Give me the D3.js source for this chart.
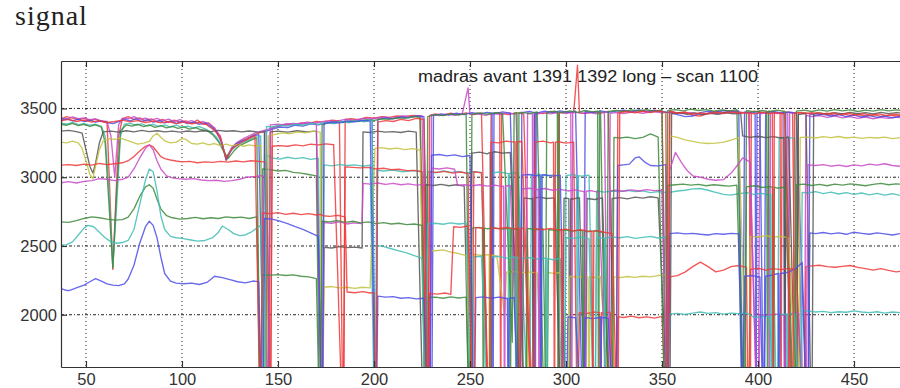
<!DOCTYPE html>
<html>
<head>
<meta charset="utf-8">
<script src="https://cdn.jsdelivr.net/npm/d3@7"></script>
<style>
body { margin: 0; background: #fff; }
svg { display: block; }
</style>
</head>
<body>
<script>
// axis ticks and texts
var xTicks = [50, 100, 150, 200, 250, 300, 350, 400, 450];
var yTicks = [2000, 2500, 3000, 3500];
var figTitle = "signal";
var plotTitle = "madras avant 1391 1392 long \u2013 scan 1100";

// one [sample, signal] list per trace (1000 = dropout below the axis)
var red1 = [[37,3425],[40,3440],[43,3430],[46,3418],[49,3428],[52,3412],[55,3420],[58,3405],[61,3395],[64,2330],[67,3300],[69,3425],[72,3440],[75,3420],[78,3432],[81,3410],[84,3425],[87,3405],[90,3420],[93,3398],[96,3415],[99,3400],[102,3410],[105,3392],[108,3415],[111,3385],[114,3395],[117,3350],[120,3300],[123,3120],[126,3210],[129,3250],[132,3270],[135,3290],[138,3310],[140,3320],
	[144,3340],[146,1000],[147,3360],[150,3370],[154,3385],[158,3380],[162,3395],[166,3390],[170,3405],[174,3400],[178,3415],[182,3410],[184,1000],[185,3420],[188,3425],[192,3418],[196,3435],[200,3430],[204,3440],[208,3435],[212,3445],[216,3440],[220,3450],[224,3445],[228,1000],[229,3450],
	[232,3460],[236,3450],[240,3465],[244,3455],[248,3468],[252,3455],[256,3465],[260,1000],[261,3460],[265,3470],[270,3455],[274,3468],[278,3460],[283,1000],[284,3470],[288,3462],[292,3478],[296,3465],[300,3475],[304,3468],[306,3815],[307,3470],[310,3462],[314,3475],[318,3468],[322,3478],[326,1000],[327,3470],
	[330,3480],[334,3472],[338,3485],[342,3475],[346,3488],[350,3478],[353,1000],[354,3480],[358,3468],[362,3475],[366,3450],[370,3445],[374,3465],[378,3478],[382,3470],[386,3482],[390,3475],[394,3468],[398,3480],[402,3470],[406,3478],[410,3465],[414,3475],[418,3468],[420,1000],[421,3470],
	[424,3462],[428,3470],[432,3455],[436,3465],[440,3450],[444,3462],[448,3448],[452,3458],[456,3445],[460,3455],[464,3442],[468,3452],[472,3445],[476,3450]];

var magenta1 = [[37,3430],[40,3420],[43,3438],[46,3425],[49,3432],[52,3418],[55,3425],[58,3410],[61,3405],[63,3300],[65,3000],[67,3380],[69,3430],[72,3425],[75,3440],[78,3420],[81,3430],[84,3415],[87,3428],[90,3410],[93,3422],[96,3405],[99,3418],[102,3400],[105,3412],[108,3395],[111,3405],[114,3390],[117,3360],[120,3290],[123,3135],[126,3220],[129,3255],[132,3280],[135,3300],[138,3320],[140,3330],
	[145,3350],[150,3375],[155,3390],[160,3385],[165,3400],[170,3395],[175,3410],[180,3405],[185,3420],[190,3415],[195,3430],[200,3425],[205,3438],[210,3430],[215,3445],[220,3440],[225,3448],[229,1000],[230,3455],
	[234,3448],[238,3460],[242,3450],[246,3462],[249,3650],[250,3455],[254,3465],[258,3450],[262,3462],[266,3455],[270,3468],[274,3458],[279,1000],[280,3465],[284,3455],[288,3470],[292,3460],[296,3472],[300,3462],[304,3475],[308,3465],[312,3470],[316,3460],[320,3472],[322,1000],[323,3465],
	[326,3470],[330,3462],[335,3475],[340,3465],[345,3478],[350,3468],[355,3475],[360,3462],[365,3470],[370,3458],[375,3468],[380,3460],[385,3472],[390,3465],[395,3470],[400,1000],[401,3460],[405,3470],[410,3462],[415,3472],[420,3465],[424,1000],[425,3450],
	[428,3440],[432,3448],[436,3435],[440,3445],[444,3432],[448,3440],[452,3428],[456,3438],[460,3425],[464,3435],[468,3428],[472,3438],[476,3430]];

var blue1 = [[37,3415],[40,3425],[43,3410],[46,3422],[49,3405],[52,3415],[55,3400],[58,3410],[61,3398],[64,3390],[67,3405],[70,3420],[73,3410],[76,3425],[79,3405],[82,3418],[85,3400],[88,3412],[91,3395],[94,3408],[97,3392],[100,3405],[103,3390],[106,3400],[109,3385],[112,3395],[115,3370],[118,3330],[121,3240],[123,3130],[125,3180],[128,3240],[131,3262],[134,3275],[137,3300],[140,3310],[142,1900],[143,3330],
	[147,3350],[151,3365],[155,3360],[159,3378],[163,3372],[167,3388],[171,3380],[175,3395],[179,3390],[183,3402],[187,3398],[191,3410],[195,3405],[199,3418],[201,1000],[202,3420],[206,3430],[210,3425],[214,3438],[218,3432],[222,3445],[226,3440],[230,1000],[231,3450],
	[235,3460],[239,3452],[243,3465],[247,3455],[251,3470],[255,3460],[259,3472],[263,3462],[267,3475],[271,3465],[276,1000],[277,3470],[281,3478],[285,3468],[289,3480],[293,3470],[297,3482],[301,3472],[305,3480],[309,1000],[310,3478],[314,3470],[318,3482],[322,3472],[326,3480],
	[330,3488],[334,3478],[338,3490],[342,3480],[346,3485],[350,3478],[354,3470],[358,3455],[362,3440],[366,3445],[370,3470],[374,3480],[378,3472],[382,3485],[386,3478],[390,3482],[392,1000],[393,3475],[397,3468],[401,3478],[403,1000],[404,3470],[408,3478],[412,3468],[416,3475],[420,3465],[426,1000],[427,3460],
	[430,3450],[434,3458],[438,3445],[442,3455],[446,3440],[450,3452],[454,3438],[458,3448],[462,3435],[466,3445],[470,3432],[474,3442],[476,3438]];

var cyan1 = [[37,3395],[40,3385],[43,3398],[46,3382],[49,3390],[52,3378],[55,3385],[58,3370],[60,3300],[62,2900],[64,2350],[66,2800],[68,3300],[70,3385],[73,3392],[76,3378],[79,3388],[82,3372],[85,3385],[88,3368],[91,3380],[94,3365],[97,3378],[100,3362],[103,3372],[106,3358],[109,3368],[112,3352],[115,3330],[118,3290],[121,3220],[123,3150],[126,3200],[129,3235],[132,3255],[135,3270],[138,3290],[141,3300],[143,1000],[144,3160],
	[147,3140],[151,3132],[155,3145],[159,3135],[163,3142],[167,3130],[171,3138],[173,1000],[174,3090],[178,3082],[182,3092],[186,3085],[190,3090],[194,3080],[198,3088],[200.5,1000],[201.5,3050],
	[205,3045],[210,3052],[215,3040],[220,3048],[225,3040],[227,1000],[228,3040],[232,3032],[236,3045],[240,3035],[244,3042],[248,3030],[252,3040],[256,3035],[260,1000],[261,3030],[265,3038],[270,3025],[275,3032],[281,1000],[282,3015],[286,3022],[290,3010],[294,3018],[299,1000],[300,3012],[304,3020],[308,3008],[312,3015],[315,1000],[316,2900],[320,2892],[324,2900],
	[328,2895],[332,2905],[336,2895],[340,2900],[344,2888],[348,2895],[352,2890],[353,1000],[354,2890],[358,2900],[362,2905],[366,2915],[370,2918],[374,2905],[378,2890],[382,2875],[386,2870],[390,2880],[394,2888],[398,2875],[402,2882],[406,2870],[410,1000],[411,3280],[415,3290],[419,3282],[422,1000],[423,2890],
	[426,2885],[430,2895],[434,2880],[438,2892],[442,2878],[446,2888],[450,2875],[454,2885],[458,2872],[462,2882],[466,2870],[470,2880],[474,2868],[476,2875]];

var green1 = [[37,3385],[40,3378],[43,3392],[46,3375],[49,3385],[52,3370],[55,3380],[58,3365],[60,3250],[62,2800],[64,2340],[66,2900],[68,3340],[71,3380],[74,3372],[77,3385],[80,3368],[83,3380],[86,3362],[89,3375],[92,3358],[95,3370],[98,3355],[101,3366],[104,3350],[107,3360],[110,3345],[113,3340],[116,3310],[119,3260],[122,3180],[124,3135],[127,3190],[130,3230],[133,3250],[136,3270],[139,3285],[141,1000],[142,3060],
	[146,3055],[150,3045],[154,3050],[158,3035],[162,3030],[166,3020],[170,3010],[172,1000],[173,3380],[176,3395],[180,3402],[184,3398],[188,3410],[192,3405],[196,3418],[200,3412],[204,3425],[208,3420],[212,3432],[216,3428],[220,3440],[224,3435],[227,1000],[228,3440],
	[232,3455],[236,3448],[240,3460],[244,3452],[248,3462],[250,1000],[251,3458],[255,3468],[259,3458],[263,3470],[267,3462],[272,1800],[273,3465],[277,3472],[281,3462],[285,3475],[289,1000],[290,3470],[294,3480],[298,3470],[302,3482],[306,3472],[310,3485],[314,3475],[318,3482],[321,1000],[322,3478],
	[326,3485],[330,3478],[334,3490],[338,3482],[342,3492],[346,3480],[350,3490],[352,1000],[353,3485],[357,3492],[361,3482],[365,3495],[369,3485],[373,3492],[377,3480],[381,3490],[385,3482],[389,3492],[393,1000],[394,3485],[398,3475],[402,3485],[406,3478],[410,3488],[414,3478],[419,1000],[420,3480],
	[424,3488],[428,3478],[432,3490],[436,3480],[440,3492],[444,3482],[448,3490],[452,3478],[456,3488],[460,3480],[464,3492],[468,3482],[472,3490],[476,3484]];

var gray1 = [[37,3335],[41,3340],[45,3332],[48,3320],[50,3200],[52,3080],[53.6,3030],[55,3100],[57,3250],[59,3330],[63,3335],[67,3328],[71,3338],[75,3330],[79,3340],[83,3332],[87,3338],[91,3330],[95,3335],[99,3328],[103,3336],[107,3330],[111,3338],[115,3332],[119,3340],[123,3334],[127,3338],[131,3330],[135,3336],[139,3330],[143,3328],[145,1000],[146,3330],
	[150,3335],[155,3328],[160,3338],[165,3330],[170,3335],[173,1000],[174,2490],[178,2485],[182,2495],[186,2488],[190,2492],[193.8,2485],[194.3,3330],[198,3325],[202,3335],[206,3328],[210,3332],[214,3325],[218,3335],[222,3328],[226,1000],[227,2945],
	[231,2940],[235,2948],[239,2938],[243,2945],[247,2935],[250,1000],[251,3175],[255,3182],[259,3170],[263,3185],[267,3175],[271,3180],[277,1000],[278,2850],[282,2842],[286,2855],[290,2845],[294,2850],[298,1000],[299,2848],[303,2840],[307,2852],[310,1000],[311,2845],[315,2838],[319,2850],[323,1000],[324,2845],
	[328,2852],[332,2842],[336,2855],[340,2848],[344,2858],[348,2850],[354,1000],[355,3460],[359,3470],[363,3458],[367,3468],[371,3455],[375,3465],[379,3458],[383,3470],[387,3460],[391,3465],[392,3300],[396,3290],[400,3298],[404,3288],[408,3295],[412,3285],[416,3292],[420,1000],[421,3455],[425,3465],[428,1000],[429,3460],
	[432,3468],[436,3458],[440,3470],[444,3460],[448,3472],[452,3462],[456,3470],[460,3460],[464,3472],[468,3462],[472,3470],[476,3465]];

var yellow1 = [[37,3255],[40,3250],[43,3262],[46,3250],[48,3210],[50,3120],[52,3020],[53.6,2990],[55,3080],[57,3200],[59,3265],[62,3280],[65,3275],[68,3285],[71,3270],[74,3255],[77,3240],[80,3248],[83,3260],[85,3300],[87,3320],[89,3290],[91,3265],[94,3250],[97,3255],[100,3280],[102,3275],[105,3245],[108,3240],[111,3250],[114,3235],[117,3245],[120,3230],[123,3240],[126,3228],[129,3238],[132,3225],[135,3235],[138,3228],[141,3232],[144,1000],[145,3300],
	[148,3310],[152,3322],[156,3315],[160,3330],[164,3322],[168,3335],[172,3328],[173,1000],[174,2200],[178,2205],[182,2195],[186,2200],[190,2192],[194,2200],[198,2195],[200.5,3210],[204,3215],[208,3205],[212,3212],[216,3200],[220,3208],[224,3198],[227,1000],[228,2470],
	[232,2465],[236,2472],[240,2455],[244,2445],[248,2430],[251,1000],[252,2440],[256,2432],[260,2438],[264,2428],[268,2000],[269,2310],[273,2315],[277,2305],[281,2312],[285,2302],[289,1000],[290,2308],[294,2300],[298,2310],[301,1000],[302,2280],[306,2272],[310,2282],[314,2270],[318,2278],[324,1000],[325,2275],
	[328,2270],[332,2278],[336,2272],[340,2280],[344,2275],[348,2285],[352,2290],[353,1000],[354,3300],[358,3290],[362,3272],[366,3260],[370,3250],[374,3245],[378,3248],[382,3255],[386,3270],[390,3290],[395,1000],[396,2570],[400,2565],[404,2575],[408,2562],[412,2570],[416,2560],[421,1000],[422,3290],
	[426,3292],[430,3285],[434,3295],[438,3288],[442,3296],[446,3285],[450,3292],[454,3282],[458,3290],[462,3285],[466,3292],[470,3280],[474,3288],[476,3285]];

var red2 = [[37,3088],[41,3092],[45,3085],[49,3095],[53,3088],[57,3100],[61,3092],[65,3098],[69,3105],[72,3120],[75,3150],[78,3190],[81,3225],[83,3235],[85,3220],[87,3185],[89,3150],[91,3135],[94,3125],[97,3118],[100,3112],[104,3115],[108,3105],[112,3112],[116,3108],[120,3115],[124,3110],[128,3118],[132,3112],[136,3120],[140,3115],[144,3110],[146,1000],[147,3225],
	[151,3230],[155,3225],[159,3235],[163,3228],[167,3240],[171,3235],[175,3242],[179,3236],[184,1000],[185,3075],[189,3072],[193,3068],[197,3072],[201,3060],[205,3065],[209,3055],[213,3058],[217,3048],[221,3050],[225,3040],[228,1000],[229,3040],
	[233,3035],[237,3042],[241,3030],[245,3038],[249,3028],[251,1000],[252,3040],[256,3032],[260,1000],[261,3255],[265,3250],[269,3262],[273,3255],[277,3260],[283,1000],[284,3255],[288,3262],[292,3250],[296,3258],[300,3248],[304,3255],[306,1000],[307,2015],[311,2010],[315,2020],[319,2012],[323,2018],[326,1000],[327,1985],
	[330,1980],[334,1990],[338,1978],[342,1985],[346,1975],[350,1988],[353,1000],[354,2275],[358,2285],[362,2310],[366,2350],[370,2383],[374,2350],[378,2312],[382,2325],[386,2350],[390,2358],[394,2345],[395,1000],[396,2330],[400,2338],[404,2325],[408,2335],[412,2328],[416,2340],[420,2330],[424,1000],[425,2350],
	[428,2355],[432,2360],[436,2350],[440,2345],[444,2352],[448,2358],[452,2345],[456,2335],[460,2325],[464,2335],[468,2322],[472,2312],[476,2318]];

var magenta2 = [[37,2960],[41,2968],[45,2958],[49,2970],[53,2975],[57,2990],[61,2985],[65,2975],[69,2985],[72,3000],[75,3060],[78,3140],[81,3210],[83,3235],[85,3200],[87,3120],[89,3060],[92,3010],[95,2995],[98,2990],[102,2985],[106,2990],[110,2980],[114,2975],[118,2978],[122,2970],[126,2975],[130,2985],[134,3000],[138,3005],[142,3012],[145,1000],[146,3380],
	[150,3385],[154,3378],[158,3392],[162,3385],[166,3395],[170,3388],[173,1000],[174,2670],[178,2665],[182,2675],[186,2660],[189,2668],[193.8,2662],[194.3,2955],[198,2950],[202,2958],[206,2948],[210,2955],[214,2945],[218,2952],[222,2942],[226,2948],[229,1000],[230,3065],
	[234,3060],[238,3068],[242,3058],[243.5,2940],[247,2945],[251,2938],[255,2945],[259,2935],[263,2942],[267,2932],[271,2940],[276,1000],[277,2915],[281,2920],[285,2910],[289,2918],[293,2905],[297,2912],[301,2900],[305,2908],[309,2895],[313,2902],[317,2890],[322,1000],[323,2900],
	[326,2905],[330,2898],[334,2908],[338,2900],[342,2910],[346,2902],[350,2905],[353,1000],[354,3050],[357,3180],[360,3110],[363,3050],[366,3010],[370,3000],[374,2985],[378,2978],[382,2982],[386,3030],[390,3100],[392,3140],[396,3110],[400,1000],[401,2000],[405,1995],[409,2005],[413,1998],[417,2008],[421,2015],[425,1000],[426,3090],
	[430,3085],[434,3092],[438,3080],[442,3088],[446,3078],[450,3090],[454,3082],[458,3095],[462,3088],[466,3098],[470,3085],[474,3080],[476,3082]];

var green2 = [[37,2675],[41,2672],[45,2685],[49,2700],[53,2712],[57,2705],[61,2695],[65,2688],[69,2692],[72,2710],[75,2770],[78,2860],[81,2930],[83,2945],[85,2920],[87,2840],[89,2770],[92,2720],[95,2705],[99,2695],[103,2700],[107,2708],[111,2698],[115,2705],[119,2700],[123,2712],[127,2705],[131,2710],[135,2700],[139,2712],[141,1000],[142,2290],
	[146,2288],[150,2292],[154,2285],[158,2290],[162,2280],[166,2275],[170,2262],[172,1000],[173,2680],[177,2675],[181,2685],[185,2672],[189,2680],[193,2668],[197,2675],[201,2662],[205,2670],[209,2660],[213,2665],[217,2655],[221,2660],[225,2650],[227,1000],[228,2125],
	[232,2128],[236,2120],[240,2130],[244,2122],[248,2128],[250,1000],[251,2630],[255,2635],[259,2625],[263,2632],[267,2622],[271,2630],[275,2620],[279,1000],[280,2628],[284,2618],[288,2625],[290,1000],[291,2620],[295,2612],[299,2618],[303,2608],[307,2615],[311,2605],[315,2610],[319,2600],[324,1000],[325,3290],
	[328,3285],[332,3292],[336,3280],[340,3290],[344,3315],[348,3292],[352,1000],[353,2940],[357,2945],[361,2950],[365,2942],[369,2948],[373,2938],[377,2945],[381,2940],[385,2935],[389,2942],[393,1000],[394,2930],[398,2938],[402,2925],[406,2932],[410,2920],[414,2928],[419,1000],[420,2945],
	[424,2950],[428,2940],[432,2948],[436,2938],[440,2950],[444,2942],[448,2952],[452,2945],[456,2938],[460,2948],[464,2955],[468,2945],[472,2952],[476,2948]];

var cyan2 = [[37,2505],[40,2510],[43,2530],[46,2580],[49,2630],[51,2650],[54,2640],[57,2600],[60,2560],[63,2530],[66,2520],[69,2525],[72,2540],[75,2620],[78,2800],[81,2980],[83,3060],[85,3040],[87,2900],[89,2720],[91,2620],[94,2570],[97,2560],[100,2555],[104,2545],[108,2535],[112,2540],[116,2560],[119,2600],[121,2645],[124,2620],[127,2590],[130,2575],[133,2580],[136,2600],[139,2630],[141,2650],[143,1000],[144,3370],
	[147,3365],[151,3378],[155,3372],[159,3385],[163,3378],[167,3392],[171,3385],[175,3398],[179,3392],[183,3405],[187,3398],[191,3410],[195,3405],[199,3415],[200.5,1000],[201.5,2505],[205,2495],[209,2480],[213,2465],[217,2450],[221,2430],[225,2412],[227,1000],[228,2660],
	[232,2665],[236,2658],[240,2668],[244,2660],[248,2665],[251,1000],[252,2420],[256,2425],[260,1000],[261,2418],[265,2425],[269,2412],[273,2420],[277,2408],[281,2415],[285,2405],[289,2412],[293,2400],[297,2408],[299,1000],[300,2560],[304,2555],[308,2565],[312,2552],[315,1000],[316,2560],[320,2555],[324,2565],
	[328,2560],[332,2568],[336,2555],[340,2562],[344,2570],[348,2558],[352,2565],[353,1000],[354,2005],[358,2010],[362,2002],[366,2012],[370,2020],[374,2010],[378,2015],[382,2005],[386,2012],[390,2008],[394,2012],[398,1980],[402,1985],[406,1990],[410,1000],[411,2000],[415,2005],[419,2010],[422,1000],[423,2030],
	[426,2028],[430,2020],[434,2025],[438,2015],[442,2022],[446,2018],[450,2028],[454,2020],[458,2015],[462,2022],[466,2012],[470,2020],[474,2015],[476,2018]];

var blue2 = [[37,2190],[39,2180],[41,2175],[43,2185],[46,2200],[49,2215],[52,2240],[55,2262],[58,2245],[61,2225],[64,2215],[67,2212],[70,2225],[72,2260],[75,2360],[78,2520],[81,2640],[83,2680],[85,2650],[87,2560],[89,2420],[91,2300],[94,2245],[97,2230],[101,2225],[105,2230],[109,2220],[113,2235],[117,2280],[121,2270],[125,2255],[129,2240],[133,2232],[137,2245],[140,2240],[142,1000],[143,2700],
	[147,2695],[151,2680],[155,2662],[159,2640],[163,2620],[167,2595],[171,2570],[173,1000],[174,3390],[178,3402],[182,3395],[186,3410],[190,3402],[194,3415],[198,3408],[201,1000],[202,2135],[206,2128],[210,2132],[214,2120],[218,2125],[222,2115],[226,2120],[229,1000],[230,3160],
	[234,3165],[238,3155],[242,3162],[246,3150],[250,3158],[252,1000],[253,2125],[257,2130],[261,2120],[265,2128],[269,2118],[273,2125],[276,1000],[277,3015],[281,3020],[285,3010],[289,3018],[293,3008],[297,3015],[300,1000],[301,1985],[305,1978],[309,1000],[310,1980],[314,1972],[318,1985],[322,1975],[326,1000],[327,3085],
	[330,3090],[333,3095],[336,3140],[338,3148],[341,3110],[344,3085],[348,3082],[352,3092],[353,1000],[354,2590],[358,2595],[362,2588],[366,2592],[370,2585],[374,2580],[378,2590],[382,2585],[386,2592],[390,2588],[392,1000],[393,2280],[397,2285],[401,2275],[403,1000],[404,2280],[408,2290],[412,2300],[416,2310],[420,2340],[423,2380],[426,1000],[427,2595],
	[430,2590],[434,2598],[438,2588],[442,2595],[446,2585],[450,2600],[454,2592],[458,2585],[462,2595],[466,2588],[470,2580],[474,2590],[476,2586]];

var red3 = [[37,3410],[41,3420],[45,3405],[49,3415],[53,3400],[57,3412],[61,3398],[65,3405],[69,3415],[73,3402],[77,3412],[81,3398],[85,3408],[89,3395],[93,3405],[97,3390],[101,3400],[105,3388],[109,3398],[113,3380],[117,3340],[120,3280],[123,3140],[126,3205],[130,3245],[134,3275],[138,3300],[141,1000],[142,2740],
	[146,2735],[150,2742],[154,2730],[158,2738],[162,2728],[166,2735],[170,2725],[172,2730],[173.5,2720],[177,2715],[181,2722],[185,2712],[186,2165],[190,2160],[194,2168],[198,2158],[200,2162],[201,1000],[202,3400],[206,3412],[210,3405],[214,3420],[218,3412],[222,3428],[226,3420],[228,1000],[229,2155],
	[233,2150],[237,2158],[240,2148],[241.5,2640],[245,2635],[249,2645],[252,1000],[253,2635],[257,2628],[260,1000],[261,2632],[265,2625],[269,2635],[273,2622],[278,2630],[283,1000],[284,2625],[288,2618],[292,2628],[296,2615],[300,2622],[304,2610],[308,2618],[312,2605],[316,2612],[320,2600],[324,2590],[327,1000],[328,3470],
	[332,3478],[336,3468],[340,3480],[344,3470],[348,3482],[352,3472],[353,1000],[354,3478],[358,3465],[362,3472],[366,3458],[370,3468],[374,3460],[378,3472],[382,3462],[386,3475],[390,3465],[394,3470],[398,3460],[402,3472],[406,3462],[410,3470],[414,3458],[418,1000],[419,3465],[423,3472],[427,3460],[431,3470],[435,3458],[439,3468],[443,3455],[447,3465],[451,3452],[455,3462],[459,3450],[463,3460],[467,3448],[471,3458],[476,3450]];

// further single-sample dropouts seen in the dense parts: [sample, level the trace sits at]
var redDrops1 = [[266,3465],[296,3468],[396,3475],[412,3470]];
var magentaDrops1 = [[283,3460],[303,3470],[406,3468],[416,3470]];
var blueDrops1 = [[262,3465],[284,3470],[399,3472],[414,3470]];
var cyanDrops1 = [[270,3028],[287,3020],[306,3012],[407,2875]];
var greenDrops1 = [[275,3470],[296,3475],[317,3480],[405,3480]];
var grayDrops1 = [[261,3180],[283,2848],[302,2844],[414,3290]];
var yellowDrops1 = [[260,2436],[280,2310],[312,2276],[408,2565]];
var redDrops2 = [[274,3258],[294,3255],[318,2015],[416,2335]];
var magentaDrops2 = [[268,2936],[286,2914],[310,2898],[414,2000]];
var greenDrops2 = [[257,2630],[271,2630],[309,2610],[408,2928]];
var cyanDrops2 = [[274,2418],[290,2410],[320,2557],[415,2005]];
var blueDrops2 = [[270,2120],[287,3014],[318,1980],[411,2300]];
var redDrops3 = [[276,2628],[298,2620],[314,2608],[408,3468]];

var traces = [red1, magenta1, blue1, cyan1, green1, gray1, yellow1, red2, magenta2, green2, cyan2, blue2, red3];
var traceDrops = [redDrops1, magentaDrops1, blueDrops1, cyanDrops1, greenDrops1, grayDrops1, yellowDrops1,
	redDrops2, magentaDrops2, greenDrops2, cyanDrops2, blueDrops2, redDrops3];
var traceColors = ["#ee3a3a", "#c84ac8", "#4d4de6", "#40bdb5", "#3d8a3d", "#555555", "#c2c240",
	"#ee3a3a", "#c84ac8", "#3d8a3d", "#40bdb5", "#4d4de6", "#ee3a3a"];

// merge the extra dropouts into each trace, in sample order
var traceData = traces.map(function(t, i) {
	var pts = t.slice();
	traceDrops[i].forEach(function(d) {
		pts.push([d[0] - 0.5, d[1]], [d[0], 1000], [d[0] + 0.5, d[1]]);
	});
	return pts.sort(function(a, b) { return a[0] - b[0]; });
});

/**
 * creates the svg
 */
var svg = d3.select("body")
	.append("svg")
	.attr("width", 900)
	.attr("height", 388);

var plotLeft = 61, plotRight = 902, plotTop = 61, plotBottom = 367;

var x = d3.scaleLinear().domain([37, 475]).range([plotLeft, plotRight]);
var y = d3.scaleLinear().domain([1620, 3845]).range([plotBottom, plotTop]);

svg.append("defs").append("clipPath")
	.attr("id", "plotClip")
	.append("rect")
	.attr("x", plotLeft)
	.attr("y", plotTop)
	.attr("width", plotRight - plotLeft)
	.attr("height", plotBottom - plotTop);

// dotted grid under the data
svg.append("g").selectAll("line")
	.data(xTicks)
	.enter().append("line")
	.attr("x1", d => x(d)).attr("x2", d => x(d))
	.attr("y1", plotTop).attr("y2", plotBottom)
	.style("stroke", "#222")
	.style("stroke-width", 1)
	.style("stroke-dasharray", "1,3");

svg.append("g").selectAll("line")
	.data(yTicks)
	.enter().append("line")
	.attr("x1", plotLeft).attr("x2", plotRight)
	.attr("y1", d => y(d)).attr("y2", d => y(d))
	.style("stroke", "#222")
	.style("stroke-width", 1)
	.style("stroke-dasharray", "3,2,1,2");

// traces
var line = d3.line()
	.x(d => x(d[0]))
	.y(d => y(d[1]));

svg.append("g")
	.attr("clip-path", "url(#plotClip)")
	.selectAll("path")
	.data(traceData)
	.enter().append("path")
	.attr("d", line)
	.style("fill", "none")
	.style("stroke", (d, i) => traceColors[i])
	.style("stroke-width", 1.35)
	.style("stroke-linejoin", "round")
	.style("opacity", 0.85);

// axes, ticks pointing inward
svg.append("g")
	.attr("transform", "translate(0," + plotBottom + ")")
	.call(d3.axisBottom(x).tickValues(xTicks).tickSizeInner(-6).tickSizeOuter(0).tickPadding(6));

svg.append("g")
	.attr("transform", "translate(0," + plotTop + ")")
	.call(d3.axisTop(x).tickValues(xTicks).tickFormat("").tickSizeInner(-6).tickSizeOuter(0));

svg.append("g")
	.attr("transform", "translate(" + plotLeft + ",0)")
	.call(d3.axisLeft(y).tickValues(yTicks).tickFormat(d3.format("d")).tickSizeInner(-6).tickSizeOuter(0).tickPadding(4));

svg.selectAll(".domain, .tick line")
	.style("stroke", "#333")
	.style("stroke-width", 1.2);

svg.selectAll(".tick text")
	.style("font-family", "'Liberation Sans', Arial, sans-serif")
	.style("font-size", "16.5px")
	.style("fill", "#333");

// titles
svg.append("text")
	.attr("x", 15)
	.attr("y", 25)
	.style("font-family", "'Liberation Serif', 'DejaVu Serif', serif")
	.style("font-size", "28px")
	.style("letter-spacing", "1px")
	.style("fill", "#222")
	.text(figTitle);

svg.append("text")
	.attr("x", 588)
	.attr("y", 82)
	.attr("text-anchor", "middle")
	.attr("textLength", 340)
	.attr("lengthAdjust", "spacingAndGlyphs")
	.style("font-family", "'Liberation Sans', Arial, sans-serif")
	.style("font-size", "16px")
	.style("fill", "#222")
	.text(plotTitle);
</script>
</body>
</html>
